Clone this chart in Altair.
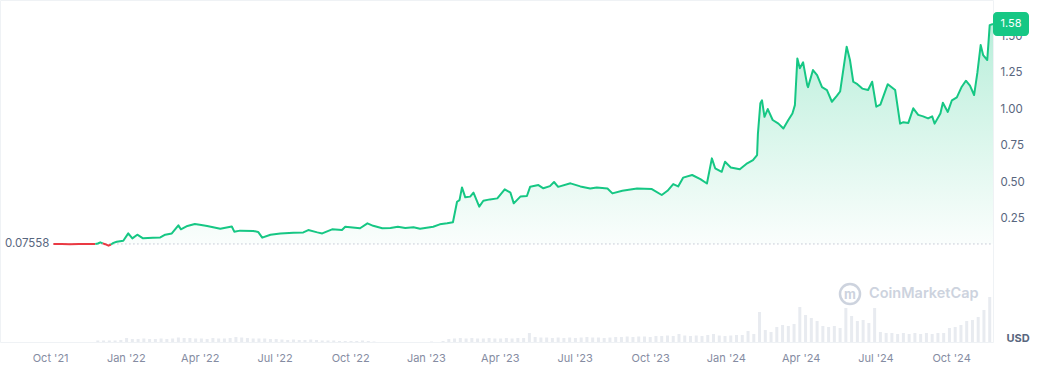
import altair as alt
import pandas as pd

# ---------------- data ----------------
BASE = 0.07558
price_dates = [
    "2021-10-05", "2021-10-15", "2021-10-25", "2021-11-05", "2021-11-15", "2021-11-25",
    "2021-11-28", "2021-12-01", "2021-12-04", "2021-12-07", "2021-12-11", "2021-12-14",
    "2021-12-17", "2021-12-21", "2021-12-29", "2022-01-04", "2022-01-09", "2022-01-15",
    "2022-01-22", "2022-02-03", "2022-02-12", "2022-02-18", "2022-02-26", "2022-03-06",
    "2022-03-09", "2022-03-17", "2022-03-26", "2022-04-01", "2022-04-10", "2022-04-26",
    "2022-05-10", "2022-05-13", "2022-05-20", "2022-06-05", "2022-06-11", "2022-06-16",
    "2022-06-26", "2022-07-08", "2022-07-24", "2022-08-05", "2022-08-11", "2022-08-22",
    "2022-08-28", "2022-09-09", "2022-09-21", "2022-09-25", "2022-10-13", "2022-10-22",
    "2022-10-29", "2022-11-09", "2022-11-19", "2022-11-28", "2022-12-07", "2022-12-17",
    "2022-12-25", "2023-01-10", "2023-01-18", "2023-01-27", "2023-02-03", "2023-02-08",
    "2023-02-11", "2023-02-14", "2023-02-18", "2023-02-24", "2023-02-28", "2023-03-07",
    "2023-03-12", "2023-03-20", "2023-03-29", "2023-04-07", "2023-04-14", "2023-04-18",
    "2023-04-26", "2023-05-04", "2023-05-08", "2023-05-18", "2023-05-24", "2023-06-01",
    "2023-06-06", "2023-06-11", "2023-06-26", "2023-07-08", "2023-07-20", "2023-07-28",
    "2023-08-10", "2023-08-16", "2023-08-28", "2023-09-15", "2023-10-03", "2023-10-15",
    "2023-10-22", "2023-10-29", "2023-11-04", "2023-11-10", "2023-11-21", "2023-12-01",
    "2023-12-09", "2023-12-15", "2023-12-19", "2023-12-27", "2023-12-31", "2024-01-07",
    "2024-01-18", "2024-01-27", "2024-02-03", "2024-02-08", "2024-02-09", "2024-02-12",
    "2024-02-14", "2024-02-17", "2024-02-21", "2024-02-27", "2024-03-05", "2024-03-11",
    "2024-03-17", "2024-03-22", "2024-03-25", "2024-03-28", "2024-03-31", "2024-04-04",
    "2024-04-09", "2024-04-10", "2024-04-16", "2024-04-21", "2024-04-27", "2024-05-03",
    "2024-05-09", "2024-05-15", "2024-05-19", "2024-05-27", "2024-05-31", "2024-06-04",
    "2024-06-09", "2024-06-15", "2024-06-22", "2024-06-27", "2024-07-02", "2024-07-07",
    "2024-07-14", "2024-07-16", "2024-07-25", "2024-07-31", "2024-08-04", "2024-08-10",
    "2024-08-16", "2024-08-22", "2024-08-28", "2024-09-03", "2024-09-08", "2024-09-11",
    "2024-09-18", "2024-09-21", "2024-09-27", "2024-10-02", "2024-10-08", "2024-10-14",
    "2024-10-19", "2024-10-24", "2024-10-29", "2024-11-02", "2024-11-06", "2024-11-09",
    "2024-11-14", "2024-11-17", "2024-11-21",
]
price_values = [
    0.07558, 0.0748, 0.0745, 0.0750, 0.0752, 0.0755,
    0.079, 0.087, 0.080, 0.074, 0.064, 0.072,
    0.083, 0.091, 0.098, 0.148, 0.114, 0.139,
    0.114, 0.119, 0.120, 0.139, 0.148, 0.203,
    0.176, 0.199, 0.212, 0.208, 0.199, 0.180,
    0.195, 0.160, 0.167, 0.165, 0.158, 0.119,
    0.139, 0.148, 0.153, 0.155, 0.171, 0.155,
    0.148, 0.176, 0.171, 0.194, 0.183, 0.217,
    0.200, 0.183, 0.185, 0.194, 0.185, 0.190,
    0.180, 0.194, 0.210, 0.217, 0.224, 0.365,
    0.376, 0.463, 0.395, 0.400, 0.427, 0.331,
    0.372, 0.381, 0.388, 0.450, 0.427, 0.354,
    0.400, 0.404, 0.468, 0.479, 0.457, 0.472,
    0.500, 0.467, 0.491, 0.470, 0.455, 0.462,
    0.455, 0.422, 0.440, 0.455, 0.452, 0.411,
    0.440, 0.486, 0.470, 0.530, 0.548, 0.520,
    0.490, 0.662, 0.594, 0.570, 0.639, 0.600,
    0.587, 0.628, 0.650, 0.685, 0.830, 1.040,
    1.060, 0.947, 1.000, 0.925, 0.900, 0.867,
    0.925, 0.970, 1.027, 1.347, 1.280, 1.320,
    1.164, 1.150, 1.267, 1.233, 1.150, 1.130,
    1.050, 1.090, 1.120, 1.427, 1.336, 1.187,
    1.170, 1.140, 1.130, 1.187, 1.016, 1.030,
    1.140, 1.170, 1.130, 0.900, 0.910, 0.905,
    1.005, 0.960, 0.950, 0.936, 0.950, 0.900,
    0.970, 1.043, 0.980, 1.060, 1.080, 1.153,
    1.194, 1.160, 1.096, 1.249, 1.438, 1.370,
    1.336, 1.575, 1.583,
]

# weekly trading volume, millions USD (first week starting 2021-11-28)
volume_start = "2021-11-28"
volume_values = [
    38, 38, 38, 38, 50, 100, 75, 75, 88, 75,
    75, 88, 75, 88, 112, 100, 100, 88, 88, 75,
    100, 88, 88, 100, 125, 112, 100, 88, 88, 88,
    75, 75, 62, 50, 62, 50, 50, 62, 50, 38,
    38, 38, 25, 25, 25, 25, 38, 25, 12, 0,
    0, 0, 0, 0, 0, 0, 0, 0, 12, 0,
    25, 75, 88, 100, 88, 100, 88, 88, 100, 88,
    88, 100, 88, 100, 100, 225, 125, 112, 112, 100,
    112, 100, 112, 100, 112, 125, 112, 112, 100, 112,
    125, 125, 138, 125, 138, 138, 125, 150, 150, 162,
    150, 200, 162, 150, 162, 150, 175, 200, 162, 150,
    162, 175, 175, 275, 200, 750, 300, 250, 375, 425,
    400, 450, 875, 675, 600, 525, 400, 375, 400, 350,
    850, 650, 525, 550, 475, 850, 250, 225, 225, 200,
    225, 200, 225, 200, 225, 200, 225, 225, 350, 375,
    425, 525, 550, 625, 800, 1125,
]
VOLUME_DOMAIN_MAX = 8550

x_ticks = ["2021-10-01", "2022-01-01", "2022-04-01", "2022-07-01", "2022-10-01",
           "2023-01-01", "2023-04-01", "2023-07-01", "2023-10-01", "2024-01-01",
           "2024-04-01", "2024-07-01", "2024-10-01"]
y_ticks = [-0.25, 0, 0.25, 0.5, 0.75, 1.0, 1.25, 1.5, 1.75]
x_domain = ["2021-08-01", "2024-11-21"]
y_domain = [-0.596, 1.747]

GREEN = "#16c784"
RED = "#ea3943"

# ---------------- tables ----------------
rows = []
seg = 0
prev = None
for d, v in zip(price_dates, price_values):
    s = "red" if v <= BASE else "green"
    if prev is not None and s != prev[2]:
        seg += 1
        rows.append({"date": prev[0], "price": prev[1], "seg": seg, "side": s})
    rows.append({"date": d, "price": v, "seg": seg, "side": s})
    prev = (d, v, s)
line_df = pd.DataFrame(rows)

area_df = pd.DataFrame({"date": price_dates,
                        "top": [max(v, BASE) for v in price_values],
                        "base": BASE})
vol_dates = pd.date_range(volume_start, periods=len(volume_values), freq="7D")
vol_df = pd.DataFrame({"date": vol_dates.strftime("%Y-%m-%d"), "volume": volume_values})
base_df = pd.DataFrame({"start": [price_dates[0]], "end": [price_dates[-1]],
                        "base": [BASE], "label": [f"{BASE:.5f}"]})
last_df = pd.DataFrame({"date": [price_dates[-1]], "price": [price_values[-1]]})

xscale = alt.Scale(domain=x_domain, nice=False, padding=0)
yscale = alt.Scale(domain=y_domain, nice=False, zero=False)

x_axis = alt.Axis(values=x_ticks, format="%b '%y", title=None, grid=False, domain=False,
                  ticks=False, labelColor="#858ca2", labelFontSize=11, labelPadding=10,
                  labelFont="Inter")
y_axis = alt.Axis(orient="right", values=y_ticks, title=None, domain=False, ticks=False,
                  gridColor="#eff2f5", gridWidth=1, labelColor="#58667e", labelFontSize=11.5,
                  labelFont="Inter", labelPadding=7,
                  labelExpr="datum.value >= 0.25 && datum.value <= 1.5 ? format(datum.value, '.2f') : ''")

volume = alt.Chart(vol_df).mark_bar(width=3, color="#e8ebf0").encode(
    x=alt.X("date:T", scale=xscale, axis=x_axis),
    y=alt.Y("volume:Q", scale=alt.Scale(domain=[0, VOLUME_DOMAIN_MAX]), axis=None),
)

area = alt.Chart(area_df).mark_area(
    color=alt.Gradient(gradient="linear", x1=0, y1=0, x2=0, y2=1,
                       stops=[alt.GradientStop(color="rgba(22,199,132,0.30)", offset=0),
                              alt.GradientStop(color="rgba(22,199,132,0.02)", offset=1)])
).encode(
    x=alt.X("date:T", scale=xscale, axis=x_axis),
    y=alt.Y("top:Q", scale=yscale, axis=y_axis),
    y2="base:Q",
)

base_rule = alt.Chart(base_df).mark_rule(color="#a1a7bb", strokeDash=[1, 3], strokeWidth=1).encode(
    x=alt.X("start:T", scale=xscale), x2="end:T", y=alt.Y("base:Q", scale=yscale))

line = alt.Chart(line_df).mark_line(strokeWidth=2, strokeJoin="round").encode(
    x=alt.X("date:T", scale=xscale),
    y=alt.Y("price:Q", scale=yscale),
    color=alt.Color("side:N", scale=alt.Scale(domain=["green", "red"], range=[GREEN, RED]), legend=None),
    detail="seg:N",
)

start_label = alt.Chart(base_df).mark_text(align="right", baseline="middle", dx=-4, fontSize=11.5,
                                           font="Inter", color="#58667e").encode(
    x=alt.X("start:T", scale=xscale), y=alt.Y("base:Q", scale=yscale), text="label:N")

badge = alt.Chart(last_df).mark_rect(width=36, height=24, cornerRadius=4, xOffset=18, color=GREEN).encode(
    x=alt.X("date:T", scale=xscale), y=alt.Y("price:Q", scale=yscale))
badge_text = alt.Chart(last_df).mark_text(color="white", fontSize=11, font="Inter", dx=18,
                                          baseline="middle").encode(
    x=alt.X("date:T", scale=xscale), y=alt.Y("price:Q", scale=yscale),
    text=alt.Text("price:Q", format=".2f"))

wm_df = pd.DataFrame({"t": ["CoinMarketCap"]})
wm_text = alt.Chart(wm_df).mark_text(align="left", baseline="middle", fontSize=14.5, fontWeight=600,
                                     font="Inter", color="#cdd3de").encode(
    x=alt.value(869), y=alt.value(294), text="t:N")
wm_logo = alt.Chart(wm_df).mark_point(shape="circle", size=400, filled=False, strokeWidth=2.5,
                                      color="#cdd3de", opacity=1).encode(
    x=alt.value(850), y=alt.value(294))
wm_m = alt.Chart(wm_df).mark_text(fontSize=13, fontWeight=700, font="Inter", color="#cdd3de",
                                  baseline="middle").encode(
    x=alt.value(850), y=alt.value(295), text=alt.value("m"))
usd = alt.Chart(wm_df).mark_text(fontSize=11, fontWeight=700, font="Inter", color="#58667e",
                                 baseline="middle").encode(
    x=alt.value(1018), y=alt.value(339), text=alt.value("USD"))

price_layer = alt.layer(area, base_rule, line, start_label, badge, badge_text)
chart = alt.layer(volume, price_layer, wm_logo, wm_m, wm_text, usd).resolve_scale(
    y="independent"
).properties(
    width=993, height=342,
    autosize=alt.AutoSizeParams(type="none"),
    padding={"left": 0, "top": 0, "right": 51, "bottom": 36},
    background="white",
).configure_view(stroke="#eff2f5", strokeWidth=1)

chart.save("out.html", embed_options={"renderer": "svg", "actions": False})
